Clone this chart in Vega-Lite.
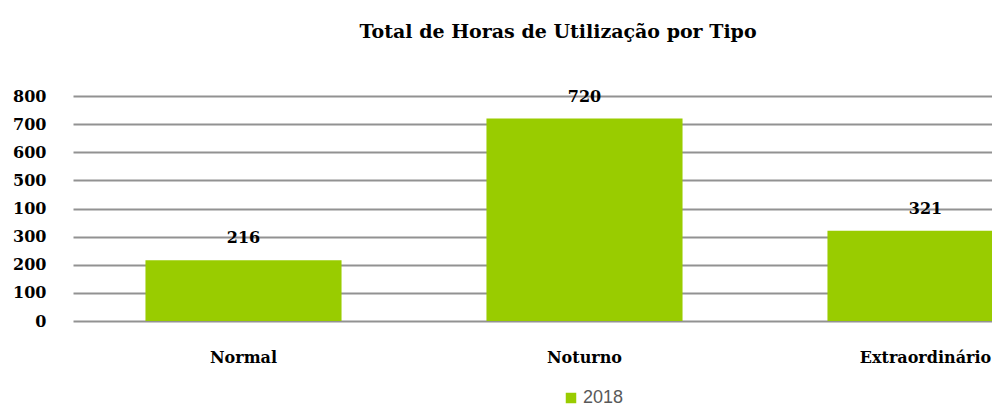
{
  "$schema": "https://vega.github.io/schema/vega-lite/v6.json",
  "autosize": "none",
  "width": 919,
  "height": 225,
  "padding": {"left": 73, "top": 96, "right": 0, "bottom": 87},
  "background": "white",
  "title": {
    "text": "Total de Horas de Utilização por Tipo",
    "font": "DejaVu Serif",
    "fontSize": 19,
    "fontWeight": "bold",
    "color": "#000000",
    "anchor": "start",
    "dx": 347,
    "offset": 46
  },
  "data": {
    "values": [
      {"tipo": "Normal", "horas": 216, "ano": "2018"},
      {"tipo": "Noturno", "horas": 720, "ano": "2018"},
      {"tipo": "Extraordinário", "horas": 321, "ano": "2018"}
    ]
  },
  "encoding": {
    "x": {
      "field": "tipo",
      "type": "nominal",
      "sort": ["Normal", "Noturno", "Extraordinário"],
      "scale": {"range": [0, 1023], "paddingInner": 0.425, "paddingOuter": 0.2125},
      "axis": {
        "title": null,
        "labelAngle": 0,
        "labelFont": "DejaVu Serif",
        "labelFontWeight": "bold",
        "labelFontSize": 16,
        "labelColor": "#000000",
        "labelPadding": 28,
        "ticks": false,
        "domain": false,
        "grid": false
      }
    },
    "y": {
      "field": "horas",
      "type": "quantitative",
      "scale": {"domain": [0, 800], "nice": false},
      "axis": {
        "title": null,
        "values": [0, 100, 200, 300, 400, 500, 600, 700, 800],
        "labelExpr": "datum.value == 400 ? '100' : datum.label",
        "labelFont": "DejaVu Serif",
        "labelFontWeight": "bold",
        "labelFontSize": 16,
        "labelColor": "#000000",
        "labelPadding": 27,
        "ticks": false,
        "domain": false,
        "grid": true,
        "gridColor": "#929292",
        "gridWidth": 2
      }
    }
  },
  "layer": [
    {
      "mark": {"type": "bar", "color": "#99cc00"},
      "encoding": {
        "color": {
          "field": "ano",
          "type": "nominal",
          "scale": {"range": ["#99cc00"]},
          "legend": {
            "title": null,
            "orient": "none",
            "legendX": 489,
            "legendY": 293,
            "padding": 0,
            "symbolType": "square",
            "symbolSize": 110,
            "symbolStrokeWidth": 0,
            "symbolOpacity": 1,
            "labelFont": "Liberation Sans",
            "labelFontSize": 18,
            "labelColor": "#595959",
            "labelOffset": 3
          }
        }
      }
    },
    {
      "mark": {
        "type": "text",
        "dy": -22,
        "baseline": "middle",
        "font": "DejaVu Serif",
        "fontWeight": "bold",
        "fontSize": 16,
        "color": "#000000"
      },
      "encoding": {"text": {"field": "horas", "type": "quantitative"}}
    }
  ],
  "config": {"view": {"stroke": null}}
}
